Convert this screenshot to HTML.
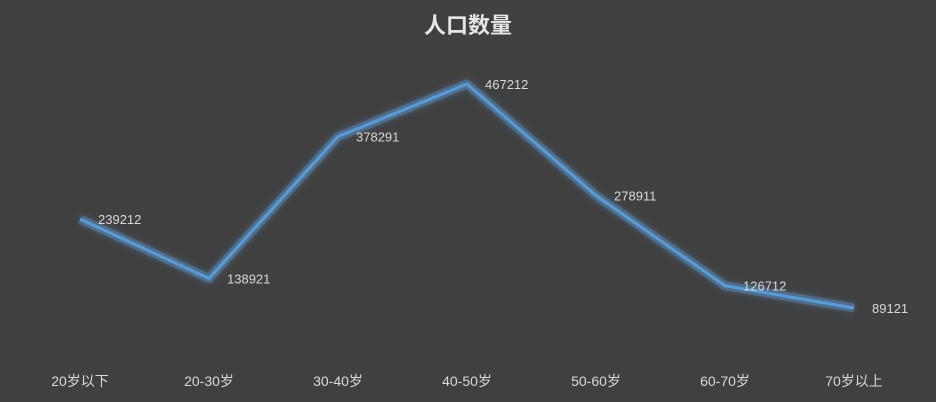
<!DOCTYPE html>
<html><head><meta charset="utf-8"><style>
html,body{margin:0;padding:0;background:#404040;}
svg{display:block;}
</style></head><body>
<svg id="chart" width="936" height="402" xmlns="http://www.w3.org/2000/svg">
<defs>
<filter id="glow" x="-10%" y="-30%" width="120%" height="160%">
<feGaussianBlur stdDeviation="3" result="b"/>
<feMerge><feMergeNode in="b"/><feMergeNode in="SourceGraphic"/></feMerge>
</filter>
</defs>
<rect width="936" height="402" fill="#404040"/>
<text x="468" y="33" text-anchor="middle" font-family="'Liberation Sans','Noto Sans CJK SC',sans-serif" font-size="22" font-weight="bold" fill="#e6e6e6">人口数量</text>
<g id="plot"></g>
</svg>
<script>
const categories = ["20岁以下","20-30岁","30-40岁","40-50岁","50-60岁","60-70岁","70岁以上"];
const values = [239212,138921,378291,467212,278911,126712,89121];
const labels = ["239212","138921","378291","467212","278911","126712","89121"];

const NS = "http://www.w3.org/2000/svg";
const g = document.getElementById('plot');
function xPos(i){ return 80 + i*129; }
function yPos(v){ return 360.8 - v*0.0005925; }
const font = "'Liberation Sans','Noto Sans CJK SC',sans-serif";

let d = values.map((v,i)=>(i?'L':'M')+xPos(i)+','+yPos(v)).join(' ');
const glow = document.createElementNS(NS,'path');
glow.setAttribute('d', d);
glow.setAttribute('fill','none');
glow.setAttribute('stroke','#5b9bd5');
glow.setAttribute('stroke-opacity','0.35');
glow.setAttribute('stroke-width','9');
glow.setAttribute('stroke-linejoin','round');
glow.setAttribute('filter','url(#glow)');


g.appendChild(glow);

const line = document.createElementNS(NS,'path');
line.setAttribute('d', d);
line.setAttribute('fill','none');
line.setAttribute('stroke','#5b9bd5');
line.setAttribute('stroke-width','3');
line.setAttribute('stroke-linejoin','round');


g.appendChild(line);

values.forEach((v,i)=>{
  const t = document.createElementNS(NS,'text');
  t.setAttribute('x', xPos(i)+18);
  t.setAttribute('y', yPos(v)+5);
  t.setAttribute('font-family', font);
  t.setAttribute('font-size','13');
  t.setAttribute('fill','#d9d9d9');
  t.textContent = labels[i];
  
  
  g.appendChild(t);
});

categories.forEach((c,i)=>{
  const t = document.createElementNS(NS,'text');
  t.setAttribute('x', xPos(i));
  t.setAttribute('y', 386);
  t.setAttribute('text-anchor','middle');
  t.setAttribute('font-family', font);
  t.setAttribute('font-size','14');
  t.setAttribute('fill','#d9d9d9');
  t.textContent = c;
  
  
  g.appendChild(t);
});
</script>
</body></html>
